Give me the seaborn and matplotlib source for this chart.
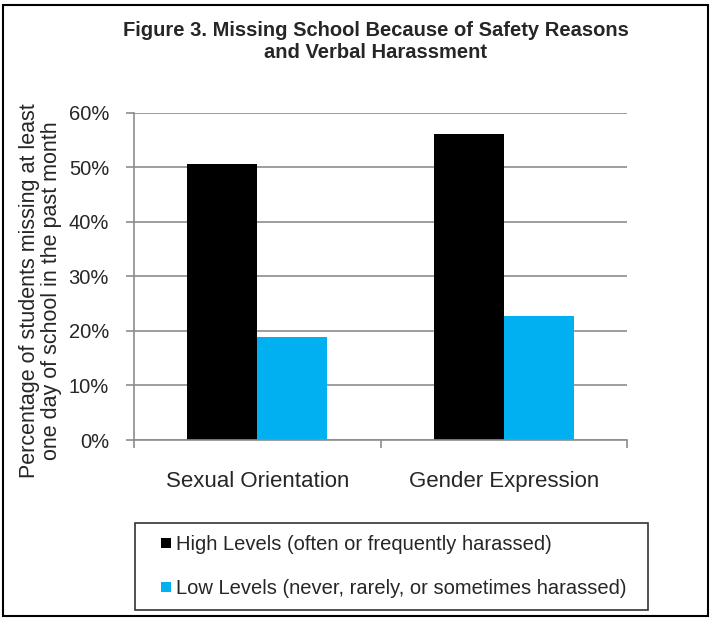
import pandas as pd
import matplotlib.pyplot as plt
import seaborn as sns
from matplotlib.lines import Line2D
from matplotlib.patches import Rectangle
from matplotlib.ticker import PercentFormatter

# values
categories = ['Sexual Orientation', 'Gender Expression']
levels = ['High Levels (often or frequently harassed)',
          'Low Levels (never, rarely, or sometimes harassed)']
high_values = [0.506, 0.561]
low_values = [0.189, 0.227]
colors = ['#000000', '#00B0F0']

title = 'Figure 3. Missing School Because of Safety Reasons\nand Verbal Harassment'
ylabel = 'Percentage of students missing at least\none day of school in the past month'

df = pd.DataFrame({
    'category': categories * 2,
    'level': [levels[0]] * 2 + [levels[1]] * 2,
    'value': high_values + low_values,
})

sns.set_theme(style='white')
plt.rcParams['font.family'] = ['Liberation Sans', 'DejaVu Sans']

fig = plt.figure(figsize=(7.12, 6.18), dpi=100)
ax = fig.add_axes([134 / 712, 178 / 618, 493 / 712, 327.3 / 618])

sns.barplot(data=df, x='category', y='value', hue='level', hue_order=levels,
            palette=colors, saturation=1, width=0.568, linewidth=0,
            legend=False, ax=ax)

ax.set_xlim(-0.5, 1.5)
ax.set_ylim(0, 0.6)
ax.set_yticks([0, 0.1, 0.2, 0.3, 0.4, 0.5, 0.6])
ax.yaxis.set_major_formatter(PercentFormatter(1.0, decimals=0))
ax.grid(axis='y', color='#8c8c8c', linewidth=1.2)
ax.set_axisbelow(True)
for s in ['top', 'right']:
    ax.spines[s].set_visible(False)
for s in ['left', 'bottom']:
    ax.spines[s].set_color('#8c8c8c')
    ax.spines[s].set_linewidth(1.2)

# category boundary ticks like Excel
ax.set_xticks([-0.5, 0.5, 1.5])
ax.set_xticklabels([])
ax.set_xticks([0, 1], minor=True)
ax.set_xticklabels(categories, minor=True, fontsize=16)
ax.tick_params(axis='x', which='major', bottom=True, length=6, width=1.2,
               color='#8c8c8c', direction='out')
ax.tick_params(axis='x', which='minor', bottom=False, length=0, pad=22)
ax.tick_params(axis='y', left=True, length=6, width=1.2, color='#8c8c8c',
               direction='out', labelsize=14.5, pad=12)
ax.set_xlabel('')
ax.set_ylabel('')

fig.text(376 / 712, 1 - 41.5 / 618, title, ha='center', va='center',
         fontsize=14.5, fontweight='bold', linespacing=1.2)
fig.text(40.5 / 712, 1 - 291 / 618, ylabel, ha='center', va='center',
         rotation=90, fontsize=15.5, multialignment='center', linespacing=1.1)

handles = [Line2D([], [], linestyle='none', marker='s', markersize=7.8,
                  markerfacecolor=c, markeredgewidth=0) for c in colors]
leg = fig.legend(handles, levels, loc='upper left',
                 bbox_to_anchor=(135 / 712, 1 - 608 / 618, 513 / 712, 85 / 618),
                 mode='expand', fontsize=14.5, frameon=True, fancybox=False,
                 handlelength=1.89, handletextpad=-0.45,
                 labelspacing=1.22, borderpad=0.6, borderaxespad=0)
leg.get_frame().set_edgecolor('black')
leg.get_frame().set_linewidth(1.2)

fig.patches.append(Rectangle((3 / 712, 2 / 618), 705 / 712, 611 / 618,
                             transform=fig.transFigure, fill=False,
                             edgecolor='black', linewidth=1.5))

fig.savefig('out.png', dpi=100)
